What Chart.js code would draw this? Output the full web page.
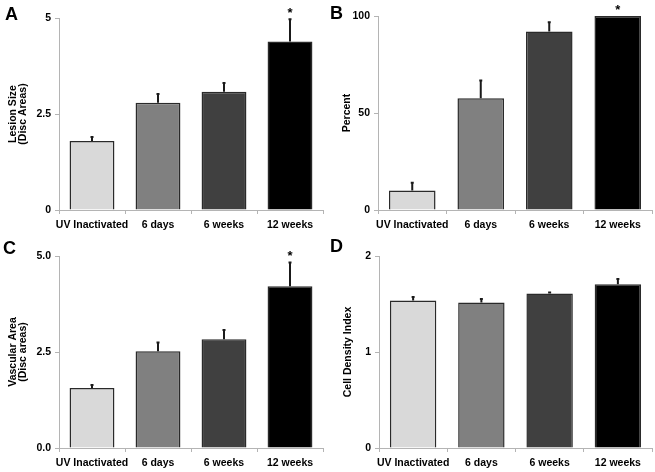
<!DOCTYPE html>
<html>
<head>
<meta charset="utf-8">
<script src="https://cdn.jsdelivr.net/npm/chart.js@4/dist/chart.umd.min.js"></script>
<style>
  body { margin: 0; background: #fff; width: 655px; height: 472px; position: relative; overflow: hidden; }
  .panel { position: absolute; }
  .letter { position: absolute; font: bold 18px "Liberation Sans", Arial, sans-serif; line-height: 1; color: #000; }
</style>
</head>
<body>
<div class="panel" style="left:0;top:0;width:327px;height:236px"><canvas id="cA"></canvas></div>
<div class="panel" style="left:327px;top:0;width:328px;height:236px"><canvas id="cB"></canvas></div>
<div class="panel" style="left:0;top:236px;width:327px;height:236px"><canvas id="cC"></canvas></div>
<div class="panel" style="left:327px;top:236px;width:328px;height:236px"><canvas id="cD"></canvas></div>
<div class="letter" style="left:5px;top:5px">A</div>
<div class="letter" style="left:330px;top:4px">B</div>
<div class="letter" style="left:3px;top:239px">C</div>
<div class="letter" style="left:330px;top:237px">D</div>
<script>
var groups = ['UV Inactivated', '6 days', '6 weeks', '12 weeks'];
var barColors = ['#d9d9d9', '#808080', '#404040', '#000000'];

var lesionSize = [1.80, 2.79, 3.08, 4.39];
var lesionErr = [0.10, 0.23, 0.23, 0.58];
var lesionTicks = ['0', '2.5', '5'];
var percent = [10.0, 57.6, 92.0, 100];
var percentErr = [4.1, 9.1, 4.8, 0];
var percentTicks = ['0', '50', '100'];
var vascArea = [1.56, 2.52, 2.83, 4.21];
var vascErr = [0.08, 0.23, 0.24, 0.62];
var vascTicks = ['0.0', '2.5', '5.0'];
var cellDensity = [1.537, 1.516, 1.61, 1.706];
var cellErr = [0.037, 0.037, 0.01, 0.055];
var cellTicks = ['0', '1', '2'];
var starred = [false, false, false, true];

var axisGray = '#b4b4b4';
var fnt = { family: '"Liberation Sans", Arial, sans-serif', size: 10.5, weight: 'bold' };

// upper error whiskers + significance stars
var errPlugin = {
  id: 'errbars',
  afterDatasetsDraw: function (chart, args, opts) {
    var ctx = chart.ctx;
    var y = chart.scales.y;
    var meta = chart.getDatasetMeta(0);
    var vals = chart.data.datasets[0].data;
    ctx.save();
    meta.data.forEach(function (bar, i) {
      var top = y.getPixelForValue(vals[i] + opts.err[i]);
      if (opts.err[i] > 0) {
        ctx.strokeStyle = '#1a1a1a';
        ctx.lineWidth = 2;
        ctx.beginPath();
        ctx.moveTo(bar.x, bar.y);
        ctx.lineTo(bar.x, top);
        ctx.moveTo(bar.x - 1.5, top);
        ctx.lineTo(bar.x + 1.5, top);
        ctx.stroke();
      }
      if (opts.stars && opts.stars[i]) {
        ctx.fillStyle = '#000';
        ctx.font = 'bold 13px "Liberation Sans", Arial, sans-serif';
        ctx.textAlign = 'center';
        ctx.textBaseline = 'middle';
        ctx.fillText('*', bar.x, top - 6);
      }
    });
    ctx.restore();
  }
};

function makeChart(id, vals, errs, stars, title, tickLabels, yWidth, padTop, padRight, xHeight, titlePad) {
  var maxV = parseFloat(tickLabels[tickLabels.length - 1]);
  var step = parseFloat(tickLabels[1]);
  return new Chart(document.getElementById(id), {
    type: 'bar',
    data: {
      labels: groups,
      datasets: [{
        data: vals,
        backgroundColor: barColors,
        borderColor: '#2a2a2a',
        borderWidth: 1.5,
        barPercentage: 0.68,
        categoryPercentage: 1
      }]
    },
    options: {
      responsive: true,
      maintainAspectRatio: false,
      animation: false,
      layout: { padding: { top: padTop, right: padRight, left: 0, bottom: 0 } },
      plugins: {
        legend: { display: false },
        tooltip: { enabled: false },
        errbars: { err: errs, stars: stars }
      },
      scales: {
        x: {
          grid: { display: true, drawOnChartArea: false, offset: true, color: axisGray, tickLength: 4 },
          border: { color: axisGray, width: 1 },
          ticks: { color: '#000', font: fnt, padding: 5, maxRotation: 0, autoSkip: false },
          afterFit: function (s) { s.height = xHeight; }
        },
        y: {
          min: 0, max: maxV,
          grid: { display: true, drawOnChartArea: false, color: axisGray, tickLength: 4 },
          border: { color: axisGray, width: 1 },
          ticks: {
            stepSize: step, color: '#000', font: fnt, padding: 4,
            callback: function (v, i) { return tickLabels[i]; }
          },
          title: {
            display: true, text: title, color: '#000',
            font: { family: fnt.family, size: 10.5, weight: 'bold', lineHeight: 0.95 },
            padding: { top: titlePad, bottom: 0 }
          },
          afterFit: function (s) { s.width = yWidth; }
        }
      }
    },
    plugins: [errPlugin]
  });
}

makeChart('cA', lesionSize, lesionErr, starred, ['Lesion Size', '(Disc Areas)'], lesionTicks, 59, 18, 4, 26, 8);
makeChart('cB', percent, percentErr, starred, 'Percent', percentTicks, 51, 16, 3, 26, 15);
makeChart('cC', vascArea, vascErr, starred, ['Vascular Area', '(Disc areas)'], vascTicks, 59, 20, 4, 24, 8);
makeChart('cD', cellDensity, cellErr, [false, false, false, false], 'Cell Density Index', cellTicks, 52, 20, 3, 24, 16);
</script>
</body>
</html>
